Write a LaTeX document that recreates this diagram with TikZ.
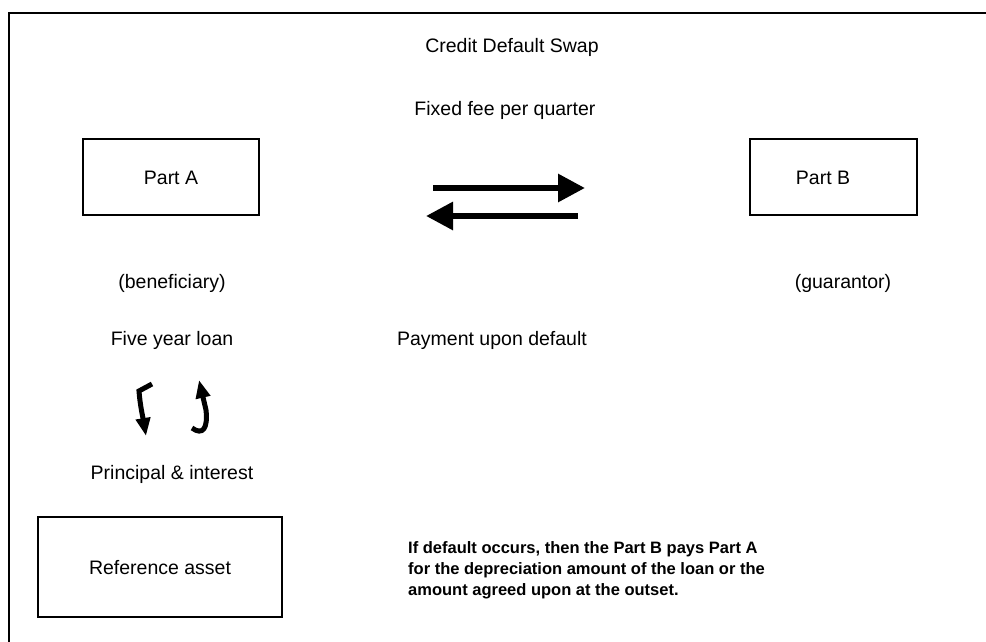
\documentclass[tikz,border=0pt]{standalone}
\usepackage{fontspec}
\setmainfont{Liberation Sans}
\usetikzlibrary{arrows.meta}
\begin{document}
\begin{tikzpicture}[x=1pt,y=-1pt,
  lbl/.style={inner sep=0pt,font=\fontsize{19.5}{23}\selectfont},
  partbox/.style={draw,line width=2pt,inner sep=0pt,minimum width=#1,minimum height=76pt},
  flow/.style={line width=6pt,-{Triangle[length=27pt,width=27pt]}},
  curl/.style={line width=5pt,-{Triangle[length=18pt,width=14pt]}},
  note/.style={inner sep=0pt,align=left,font=\fontsize{16.5}{21}\selectfont\bfseries}]
\useasboundingbox (0,0) rectangle (986,642);
\draw[line width=2pt] (9,642) -- (9,13) -- (986,13);
\node[lbl] (title) at (512,47) {Credit Default Swap};
\node[lbl] (fee) at (505,110) {Fixed fee per quarter};
\node[partbox=176pt] (A) at (171,177) {};
\node[lbl] (Atext) at (171,178) {Part A};
\node[partbox=167pt] (B) at (833,177) {};
\node[lbl] (Btext) at (823,178) {Part B};
\coordinate (u1) at (433,188);
\coordinate (u2) at (585,188);
\coordinate (l1) at (578,216);
\coordinate (l2) at (426,216);
\draw[flow] (u1) -- (u2);
\draw[flow] (l1) -- (l2);
\node[lbl] (benef) at (172,283) {(beneficiary)};
\node[lbl] (guar) at (843,283) {(guarantor)};
\node[lbl] (loan) at (172,340) {Five year loan};
\node[lbl] (pay) at (492,340) {Payment upon default};
\coordinate (c1s) at (152,384);
\coordinate (c1e) at (146,436);
\draw[curl] (c1s) -- (139,391) .. controls (140,405) and (143,418) .. (c1e);
\coordinate (c2s) at (192,428);
\coordinate (c2e) at (199,380);
\draw[curl] (c2s) .. controls (203,436) and (208,428) .. (206,410) -- (c2e);
\node[lbl] (pi) at (172,474) {Principal \& interest};
\node[note,anchor=north west] (nt) at (408,541) {If default occurs, then the Part B pays Part A\\for the depreciation amount of the loan or the\\amount agreed upon at the outset.};
\node[draw,line width=2pt,minimum width=244pt,minimum height=100pt,inner sep=0pt] (ref) at (160,567) {};
\node[lbl] (reftext) at (160,568) {Reference asset};
\end{tikzpicture}
\end{document}
